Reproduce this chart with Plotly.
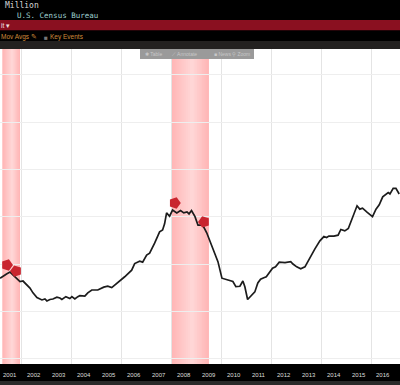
import plotly.graph_objects as go

years = [2001.12,2001.24,2001.38,2001.52,2001.64,2001.80,2001.92,2002.04,2002.20,2002.32,2002.44,2002.60,2002.80,2002.92,
2003.00,2003.12,2003.24,2003.40,2003.52,2003.60,2003.76,2003.92,2004.00,2004.12,2004.24,2004.32,2004.52,2004.64,2004.80,
2005.04,2005.28,2005.44,2005.60,2005.84,2006.12,2006.40,2006.52,2006.72,2006.84,2007.00,2007.12,2007.32,2007.52,2007.64,2007.72,2007.80,2007.92,
2008.04,2008.21,2008.36,2008.49,2008.62,2008.70,2008.80,2008.94,2009.06,2009.25,2009.41,2009.61,2009.86,2010.02,2010.34,2010.46,2010.58,2010.74,2010.86,2010.94,
2011.05,2011.21,2011.34,2011.46,2011.57,2011.70,2011.80,2012.05,2012.17,2012.32,2012.55,2012.78,2012.87,2013.02,2013.18,2013.35,2013.55,2013.75,2013.95,
2014.11,2014.22,2014.31,2014.51,2014.68,2014.79,2014.95,2015.09,2015.26,2015.44,2015.55,2015.66,2015.85,2016.06,2016.20,2016.33,2016.47,2016.69,2016.76,2016.89,2017.00,2017.13]
values = [3.70,3.75,3.79,3.83,3.77,3.70,3.63,3.64,3.56,3.49,3.39,3.29,3.24,3.26,
3.22,3.25,3.26,3.30,3.28,3.25,3.31,3.27,3.31,3.26,3.31,3.33,3.32,3.39,3.45,
3.45,3.51,3.53,3.50,3.60,3.73,3.87,4.01,4.06,4.04,4.19,4.23,4.44,4.68,4.72,4.85,5.08,5.01,
5.14,5.08,5.13,5.08,5.10,5.06,5.13,5.00,4.82,4.82,4.66,4.37,4.05,3.70,3.66,3.63,3.52,3.53,3.64,3.52,
3.25,3.34,3.41,3.60,3.68,3.71,3.73,3.91,3.94,4.04,4.03,4.05,4.00,3.94,3.90,3.94,4.14,4.32,4.49,
4.58,4.56,4.59,4.59,4.61,4.73,4.70,4.75,5.00,5.23,5.16,5.18,5.09,5.00,5.16,5.25,5.42,5.51,5.48,5.60,5.60,5.48]

recessions = [(2001.21, 2001.92), (2007.98, 2009.50)]
event_years = [2001.40, 2001.76, 2008.13, 2009.30]
event_values = [3.98, 3.85, 5.29, 4.89]
event_angles = [90, 270, 90, 270]
grid_years = [2002, 2004, 2006, 2008, 2010, 2012, 2014, 2016]
grid_values = [2, 3, 4, 5, 6, 7, 8]
year_labels = list(range(2001, 2017))

H = 385
def py(p):
    return 1 - p / H

def band(y0, y1, color):
    return dict(type="rect", xref="paper", yref="paper", x0=0, x1=1, y0=py(y1), y1=py(y0),
                fillcolor=color, line_width=0, layer="below")

shapes = [band(0, 20, "#000000"), band(20, 30.5, "#8a1020"), band(30.5, 41, "#000000"),
          band(41, 49, "#232120"), band(364, 381, "#000000"), band(381, 385, "#2a2a2a")]

# recession shading: nested rectangles, darker pink at the edges, paler toward the middle
STEPS = 10
for a, b in recessions:
    mid = a + (b - a) * 0.55
    for i in range(STEPS):
        t = i / STEPS
        g = int(182 + 36 * t)
        shapes.append(dict(type="rect", xref="x", yref="paper",
                           x0=a + (mid - a) * t, x1=b - (b - mid) * t,
                           y0=py(364), y1=py(49), fillcolor=f"rgb(255,{g},{g})",
                           line_width=0, layer="between"))

# toolbar chip
shapes.append(dict(type="rect", xref="paper", yref="paper", x0=140 / 400, x1=254 / 400,
                   y0=py(59), y1=py(49), fillcolor="#9a9a9a", line_width=0, layer="above"))

def note(x, y, text, color, size, family="DejaVu Sans Mono"):
    return dict(xref="paper", yref="paper", x=x / 400, y=py(y), text=text, showarrow=False,
                xanchor="left", yanchor="middle", font=dict(color=color, size=size, family=family))

annotations = [
    note(3, 5.5, "Million", "#d8d8d8", 8),
    note(15, 15.5, "U.S. Census Bureau", "#9fd0d0", 7.5),
    note(-1, 25.5, "it ▾", "#f0e0e0", 6.5, "Liberation Sans"),
    note(-1, 37, "Mov Avgs ✎", "#cf8a3a", 6.5, "Liberation Sans"),
    note(42, 37, "■", "#777777", 6.5, "Liberation Sans"),
    note(48, 37, "Key Events", "#cf8a3a", 6.5, "Liberation Sans"),
    note(143, 54, "✱ Table", "#c8c8c8", 5, "Liberation Sans"),
    note(170, 54, "⟋ Annotate", "#c8c8c8", 5, "Liberation Sans"),
    note(212, 54, "■ News", "#c8c8c8", 5, "Liberation Sans"),
    note(230, 54, "⚲ Zoom", "#c8c8c8", 5, "Liberation Sans"),
]
for yr in year_labels:
    annotations.append(dict(xref="x", yref="paper", x=yr + 0.5, y=py(375), text=str(yr), showarrow=False,
                            xanchor="center", yanchor="middle",
                            font=dict(color="#dddddd", size=6, family="Liberation Sans")))

fig = go.Figure()
fig.add_trace(go.Scatter(x=years, y=values, mode="lines", line=dict(color="#1c1c1c", width=1.7),
                         hoverinfo="skip", showlegend=False))
fig.add_trace(go.Scatter(x=event_years, y=event_values, mode="markers", hoverinfo="skip", showlegend=False,
                         marker=dict(symbol="pentagon", size=12, color="#c9252f", angle=event_angles,
                                     line=dict(width=0))))

fig.update_layout(
    width=400, height=385, autosize=False,
    margin=dict(l=0, r=0, t=0, b=0),
    paper_bgcolor="#000000", plot_bgcolor="#ffffff",
    showlegend=False, shapes=shapes, annotations=annotations,
    xaxis=dict(range=[2001.118, 2017.163], tickvals=grid_years, showticklabels=False, ticks="",
               showgrid=True, gridcolor="#e4e4e4", gridwidth=1.3, zeroline=False, fixedrange=True),
    yaxis=dict(range=[1.886, 8.545], tickvals=grid_values, showticklabels=False, ticks="",
               showgrid=True, gridcolor="#eeeeee", gridwidth=1, zeroline=False, fixedrange=True,
               domain=[py(364), py(49)]),
)
fig.write_html("out.html", config={"displayModeBar": False},
               post_script="document.body.style.margin='0';document.body.style.background='#000';")
